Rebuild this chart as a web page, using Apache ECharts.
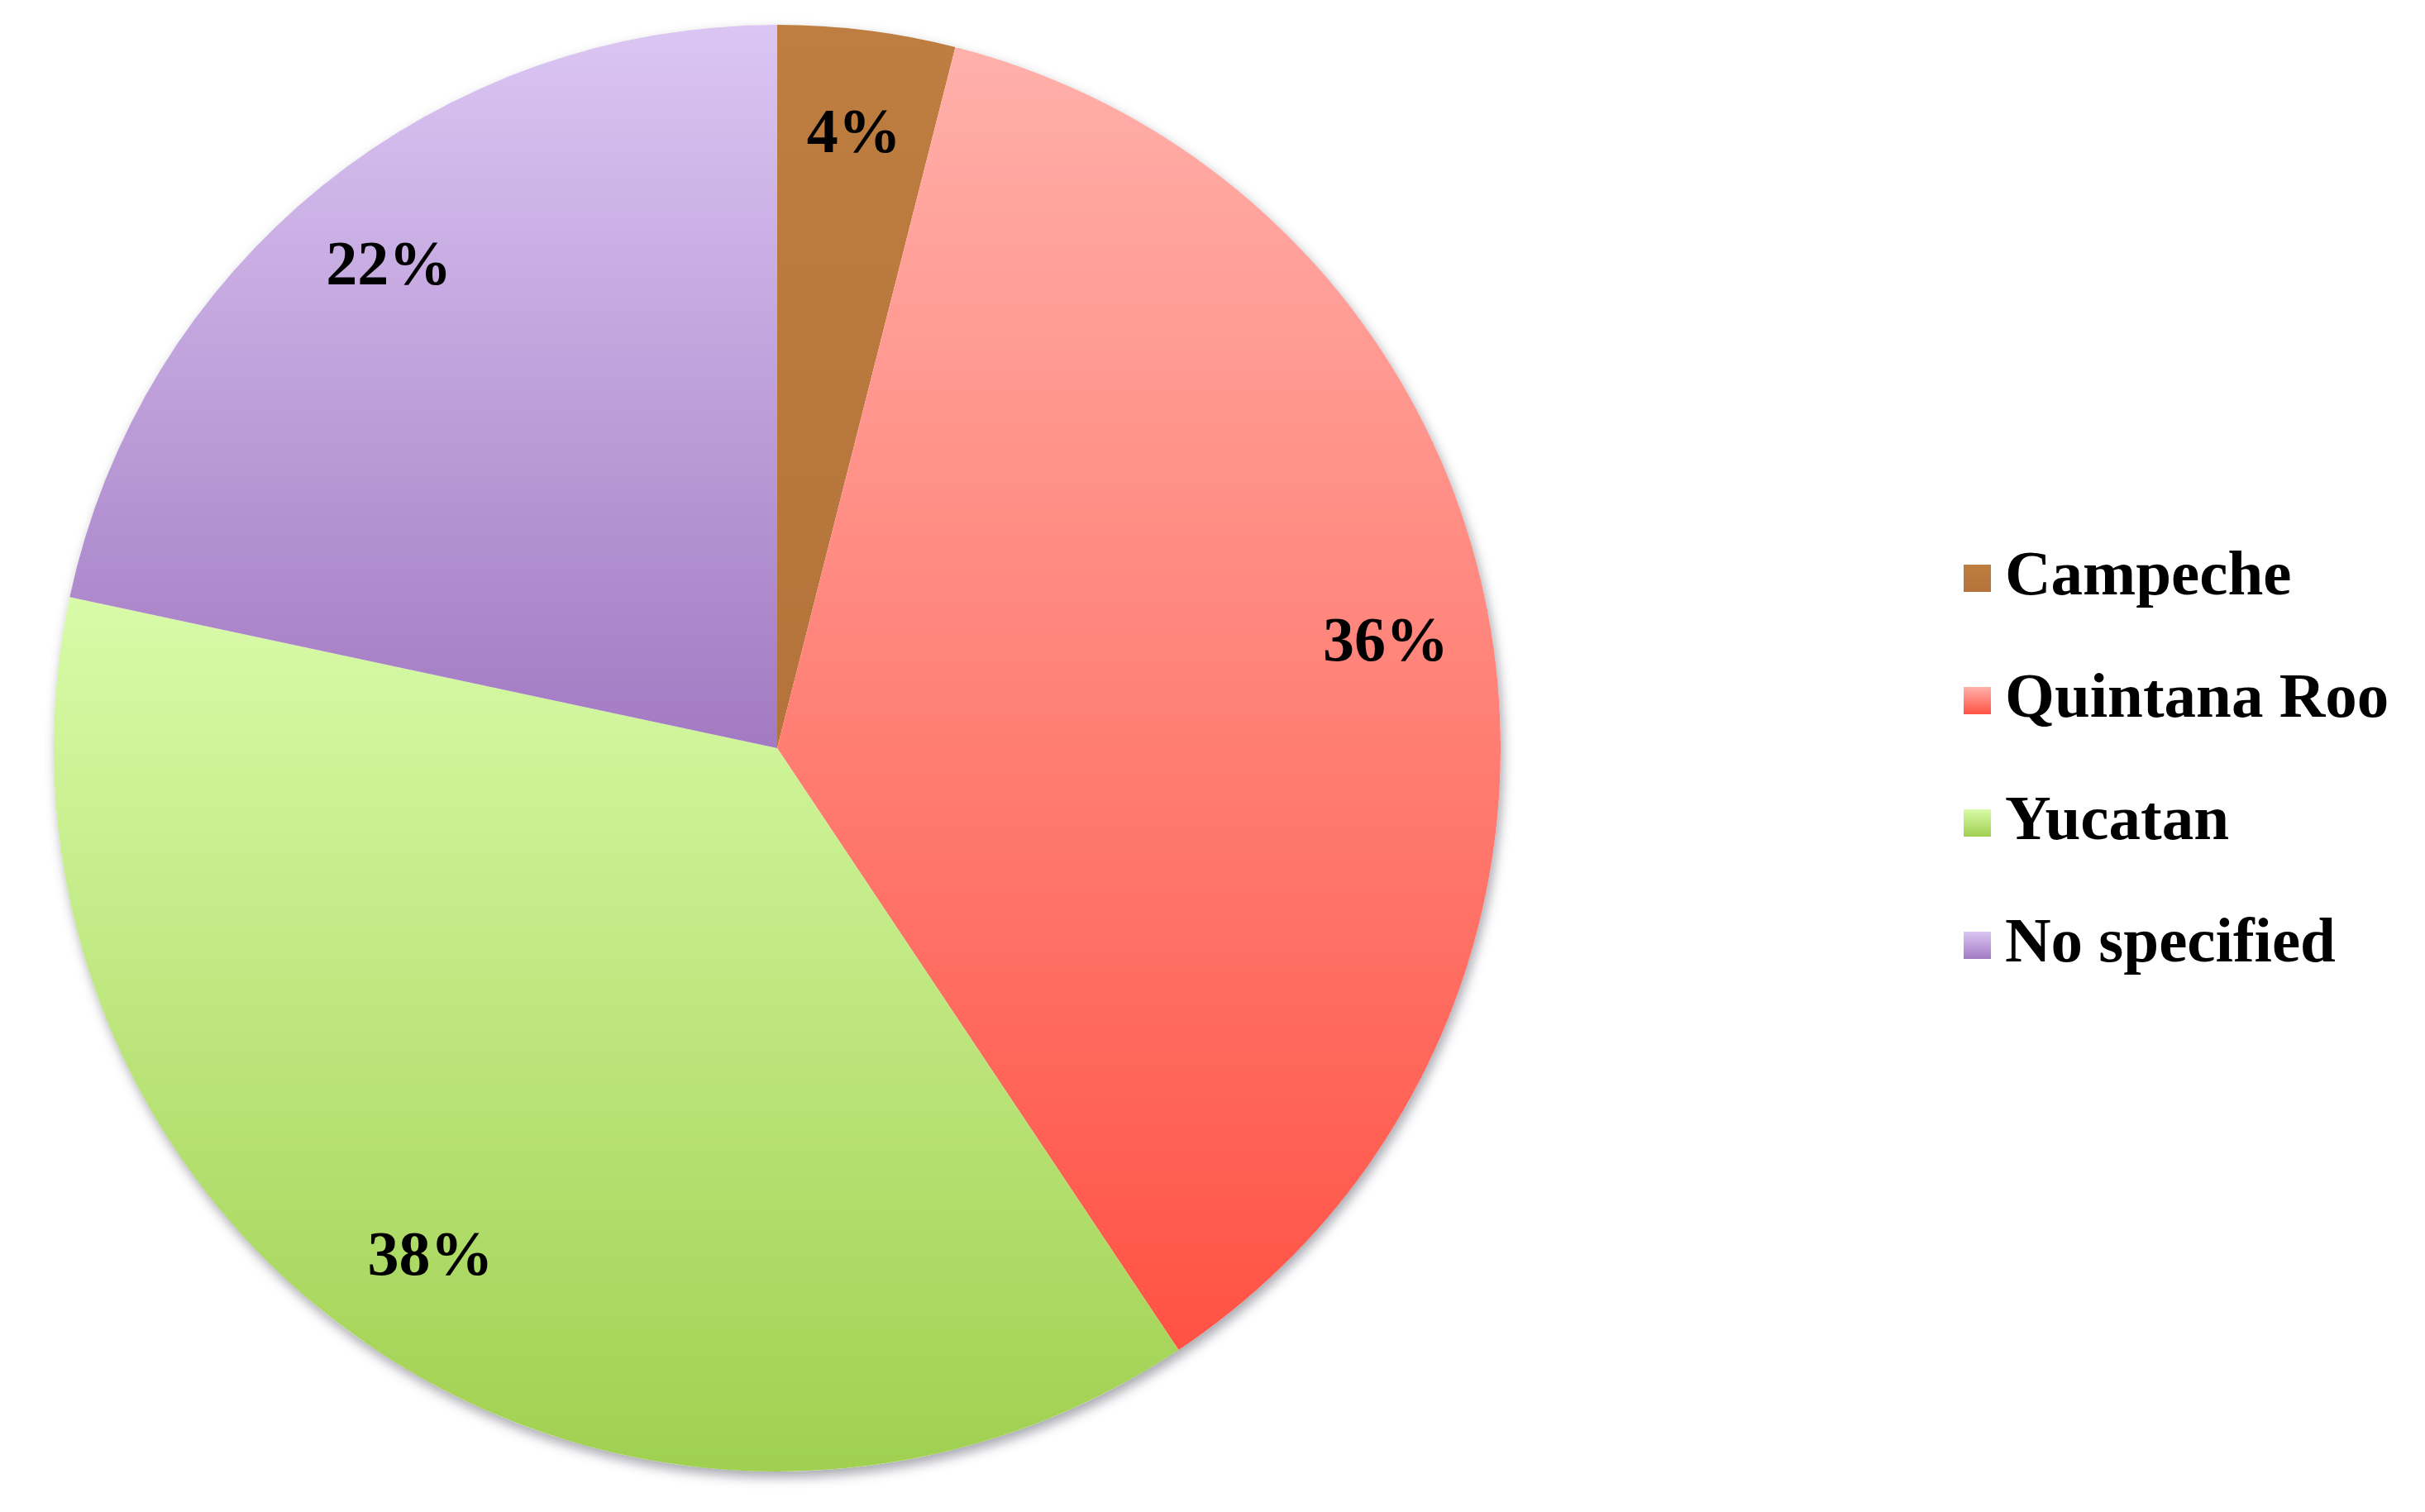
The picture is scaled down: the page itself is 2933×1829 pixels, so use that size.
<!DOCTYPE html>
<html>
<head>
<meta charset="utf-8">
<script src="https://cdn.jsdelivr.net/npm/echarts@6/dist/echarts.min.js"></script>
<style>
  html, body { margin: 0; padding: 0; background: #ffffff; }
  #chart { width: 2933px; height: 1829px; }
</style>
</head>
<body>
<div id="chart"></div>
<script>
// data (slice angles), labels as printed
const categories = ['Campeche', 'Quintana Roo', 'Yucatan', 'No specified'];
const shares = [3.96, 36.68, 37.71, 21.65];
const labelTexts = ['4%', '36%', '38%', '22%'];

// top / bottom gradient colours per slice
const topColors = ['#BE7E41', '#FFB0AA', '#D8FBA8', '#DBC6F3'];
const bottomColors = ['#B4733A', '#FF5244', '#A0D050', '#A27AC2'];

const center = [940, 905];
const radius = 875;

function grad(i) {
  return new echarts.graphic.LinearGradient(0, 0, 0, 1, [
    { offset: 0, color: topColors[i] },
    { offset: 1, color: bottomColors[i] }
  ]);
}

const pieData = categories.map((name, i) => ({
  name: name,
  value: shares[i],
  itemStyle: { color: grad(i) }
}));

const chart = echarts.init(document.getElementById('chart'), null, { renderer: 'canvas' });

const option = {
  backgroundColor: '#ffffff',
  animation: false,
  legend: {
    orient: 'vertical',
    left: 2370,
    top: 650,
    itemWidth: 33,
    itemHeight: 33,
    itemGap: 59,
    icon: 'rect',
    data: categories,
    textStyle: {
      fontFamily: 'Liberation Serif',
      fontWeight: 'bold',
      fontSize: 77,
      lineHeight: 77,
      color: '#000000',
      padding: [12, 0, 0, 12]
    }
  },
  series: [
    // backing disc only for the soft drop shadow
    {
      type: 'pie',
      silent: true,
      center: center,
      radius: radius,
      z: 1,
      label: { show: false },
      labelLine: { show: false },
      itemStyle: {
        color: '#ffffff',
        shadowBlur: 14,
        shadowOffsetX: 3,
        shadowOffsetY: 7,
        shadowColor: 'rgba(60,60,80,0.45)'
      },
      data: [{ name: '', value: 1 }]
    },
    {
      name: 'Share',
      type: 'pie',
      center: center,
      radius: radius,
      startAngle: 90,
      clockwise: true,
      z: 2,
      label: { show: false },
      labelLine: { show: false },
      itemStyle: { borderWidth: 0 },
      emphasis: { disabled: true },
      data: pieData
    },
    // transparent ring used only to place the labels near the rim
    {
      type: 'pie',
      silent: true,
      center: center,
      radius: [radius * 0.70, radius * 1.0],
      startAngle: 90,
      clockwise: true,
      z: 3,
      itemStyle: { color: 'rgba(0,0,0,0)', borderWidth: 0 },
      labelLine: { show: false },
      label: {
        show: true,
        position: 'inside',
        formatter: p => labelTexts[p.dataIndex],
        fontFamily: 'Liberation Serif',
        fontWeight: 'bold',
        fontSize: 76,
        color: '#000000'
      },
      data: categories.map((name, i) => ({ name: name + ' ', value: shares[i] }))
    }
  ]
};

chart.setOption(option);
</script>
</body>
</html>
